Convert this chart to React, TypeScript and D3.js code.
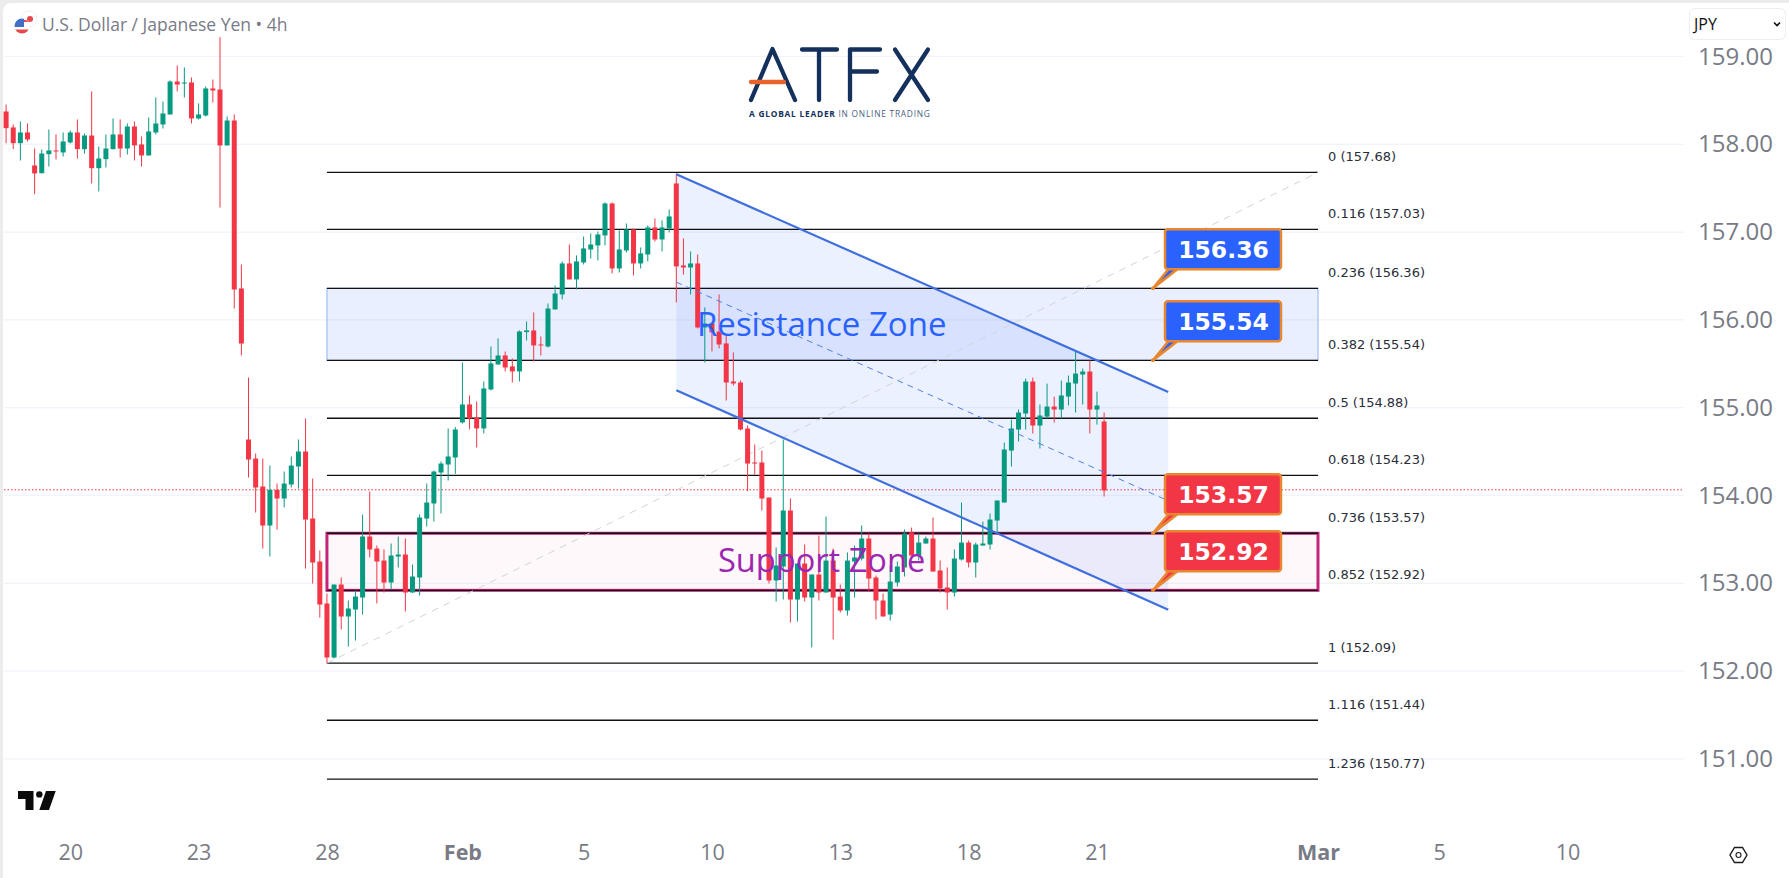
import { useEffect, useRef } from 'react';
import * as d3 from 'd3';

const WIDTH = 1789;
const HEIGHT = 878;

// open, high, low, close of each 4h candle
type Candle = [number, number, number, number];

const candles: Candle[] = [
  [158.374, 158.453, 158.013, 158.184], [158.192, 158.226, 157.945, 158.013], [158.013, 158.26, 157.816, 158.135],
  [158.135, 158.237, 158.032, 158.055], [157.759, 157.952, 157.432, 157.668], [157.671, 157.941, 157.668, 157.895],
  [157.888, 158.169, 157.747, 157.93], [157.93, 158.112, 157.827, 157.922], [157.907, 158.135, 157.861, 158.032],
  [158.021, 158.157, 158.009, 158.135], [158.135, 158.283, 157.838, 157.945], [157.945, 158.123, 157.895, 158.1],
  [158.1, 158.602, 157.554, 157.728], [157.728, 157.975, 157.463, 157.838], [157.831, 158.112, 157.736, 157.952],
  [157.945, 158.294, 157.941, 158.112], [158.112, 158.283, 157.85, 157.952], [157.952, 158.237, 157.884, 158.203],
  [158.203, 158.26, 157.816, 157.987], [157.998, 158.089, 157.747, 157.873], [157.873, 158.305, 157.873, 158.146],
  [158.135, 158.533, 158.112, 158.237], [158.226, 158.488, 158.18, 158.351], [158.34, 158.727, 158.34, 158.715],
  [158.715, 158.898, 158.602, 158.681], [158.696, 158.875, 158.533, 158.704], [158.704, 158.761, 158.237, 158.294],
  [158.294, 158.465, 158.283, 158.34], [158.328, 158.658, 158.317, 158.636], [158.636, 158.738, 158.476, 158.613],
  [158.624, 159.22, 157.28, 157.987], [157.987, 158.317, 157.987, 158.271], [158.271, 158.34, 156.13, 156.346],
  [156.358, 156.631, 155.595, 155.731], [154.638, 155.344, 154.205, 154.41], [154.421, 154.478, 153.806, 154.091],
  [154.102, 154.421, 153.396, 153.658], [153.658, 154.341, 153.305, 154.064], [154.064, 154.136, 153.612, 153.966],
  [153.966, 154.273, 153.863, 154.136], [154.125, 154.444, 154.091, 154.341], [154.33, 154.638, 154.079, 154.501],
  [154.501, 154.877, 153.168, 153.726], [153.738, 154.193, 152.997, 153.237], [153.248, 153.373, 152.61, 152.758],
  [152.77, 152.884, 152.086, 152.155], [152.155, 152.986, 152.143, 152.986], [152.986, 153.066, 152.474, 152.622],
  [152.622, 152.804, 152.28, 152.713], [152.701, 152.918, 152.348, 152.849], [152.838, 153.783, 152.644, 153.533],
  [153.533, 154.045, 153.294, 153.385], [153.396, 153.43, 152.77, 153.248], [153.259, 153.385, 152.895, 153.009],
  [153.009, 153.453, 152.929, 153.316], [153.305, 153.533, 153.18, 153.328], [153.328, 153.51, 152.679, 152.895],
  [152.895, 153.214, 152.895, 153.077], [153.066, 153.783, 152.861, 153.749], [153.738, 154.136, 153.647, 153.92],
  [153.909, 154.284, 153.704, 154.273], [154.262, 154.387, 153.795, 154.364], [154.353, 154.763, 154.171, 154.444],
  [154.433, 154.779, 154.247, 154.752], [154.832, 155.515, 154.82, 155.037], [155.037, 155.139, 154.752, 154.877],
  [154.889, 155.071, 154.547, 154.764], [154.764, 155.299, 154.707, 155.219], [155.208, 155.697, 155.196, 155.504],
  [155.492, 155.789, 155.492, 155.595], [155.595, 155.64, 155.413, 155.458], [155.47, 155.561, 155.287, 155.413],
  [155.413, 155.88, 155.299, 155.868], [155.861, 155.982, 155.766, 155.88], [155.88, 156.085, 155.527, 155.709],
  [155.72, 155.811, 155.595, 155.709], [155.697, 156.187, 155.686, 156.13], [156.119, 156.392, 156.119, 156.301],
  [156.29, 156.666, 156.233, 156.643], [156.643, 156.859, 156.461, 156.461], [156.461, 156.734, 156.347, 156.666],
  [156.654, 156.95, 156.631, 156.814], [156.802, 156.984, 156.7, 156.859], [156.848, 157.007, 156.677, 156.973],
  [156.962, 157.338, 156.848, 157.326], [157.326, 157.338, 156.529, 156.586], [156.586, 157.019, 156.54, 156.802],
  [156.791, 157.098, 156.768, 157.03], [157.03, 157.041, 156.506, 156.643], [156.643, 156.825, 156.586, 156.757],
  [156.745, 157.076, 156.666, 157.053], [157.053, 157.155, 156.893, 156.916], [156.916, 157.133, 156.779, 157.053],
  [157.041, 157.258, 156.996, 157.178], [157.554, 157.668, 156.199, 156.609], [156.62, 156.928, 156.517, 156.597],
  [156.597, 156.779, 156.29, 156.643], [156.643, 156.745, 155.902, 155.914], [155.914, 156.142, 155.515, 155.959],
  [155.959, 155.959, 155.64, 155.857], [155.868, 156.29, 155.675, 155.72], [155.732, 155.823, 155.082, 155.287],
  [155.299, 155.629, 155.253, 155.276], [155.287, 155.31, 154.741, 154.752], [154.763, 154.797, 154.049, 154.364],
  [154.376, 154.581, 154.239, 154.364], [154.376, 154.512, 153.829, 153.966], [153.977, 153.977, 152.998, 153.032],
  [153.032, 153.408, 152.792, 153.203], [153.191, 154.638, 152.815, 153.829], [153.829, 153.966, 152.553, 152.815],
  [152.815, 153.225, 152.565, 153.225], [153.225, 153.442, 152.792, 152.838], [152.838, 153.1, 152.269, 153.1],
  [153.1, 153.544, 152.804, 152.895], [152.895, 153.761, 152.895, 153.259], [153.259, 153.396, 152.36, 152.838],
  [152.849, 152.986, 152.667, 152.69], [152.69, 153.351, 152.633, 153.259], [153.248, 153.43, 152.838, 153.294],
  [153.282, 153.658, 153.259, 153.51], [153.51, 153.567, 152.906, 153.054], [153.066, 153.089, 152.587, 152.804],
  [152.804, 152.884, 152.622, 152.622], [152.644, 153.203, 152.576, 153.02], [153.009, 153.248, 152.963, 153.191],
  [153.18, 153.613, 153.077, 153.567], [153.578, 153.635, 153.316, 153.316], [153.316, 153.567, 153.259, 153.464],
  [153.453, 153.533, 153.453, 153.51], [153.51, 153.749, 153.134, 153.134], [153.146, 153.259, 152.895, 152.941],
  [152.952, 153.18, 152.701, 152.895], [152.895, 153.385, 152.849, 153.282], [153.271, 153.92, 153.259, 153.464],
  [153.464, 153.487, 153.18, 153.237], [153.237, 153.464, 153.066, 153.442], [153.43, 153.704, 153.43, 153.453],
  [153.442, 153.795, 153.385, 153.726], [153.715, 153.943, 153.556, 153.943], [153.92, 154.603, 153.92, 154.524],
  [154.512, 154.865, 154.33, 154.763], [154.751, 154.979, 154.615, 154.945], [154.934, 155.332, 154.751, 155.298],
  [155.298, 155.344, 154.706, 154.797], [154.797, 155.036, 154.535, 154.911], [154.899, 155.275, 154.877, 155.013],
  [155.013, 155.127, 154.831, 154.979], [154.979, 155.31, 154.877, 155.139], [155.127, 155.366, 155.025, 155.287],
  [155.275, 155.64, 154.945, 155.389], [155.378, 155.446, 155.036, 155.412], [155.412, 155.537, 154.706, 154.979],
  [154.979, 155.184, 154.808, 155.025], [154.843, 154.945, 153.988, 154.057],
];

const priceTicks = [159, 158, 157, 156, 155, 154, 153, 152, 151];
const lastPrice = 154.065;

// bar index -> label
const timeTicks: [number, string][] = [
  [9, '20'], [27, '23'], [45, '28'], [64, 'Feb'], [81, '5'], [99, '10'],
  [117, '13'], [135, '18'], [153, '21'], [184, 'Mar'], [201, '5'], [219, '10'],
];

const fibRatios = ['0', '0.116', '0.236', '0.382', '0.5', '0.618', '0.736', '0.852', '1', '1.116', '1.236'];
const fibPrices = [157.68, 157.03, 156.36, 155.54, 154.88, 154.23, 153.57, 152.92, 152.09, 151.44, 150.77];
const fibStart = 45; // bar index of the fib's left edge
const fibEnd = 184;

const resistanceZone = [156.36, 155.54];
const supportZone = [153.57, 152.92];

const callouts = [
  { price: 156.36, color: '#2962ff' },
  { price: 155.54, color: '#2962ff' },
  { price: 153.57, color: '#f23645' },
  { price: 152.92, color: '#f23645' },
];

// downward channel, [bar index, price] at both ends
const channelBars = [94, 163];
const channelUpper = [157.66, 155.18];
const channelLower = [155.2, 152.7];

const App = () => {
  const svgRef = useRef<SVGSVGElement>(null);

  useEffect(() => {
    if (!svgRef.current) return;

    const svg = d3.select(svgRef.current);
    svg.selectAll('*').remove();

    const x = d3.scaleLinear().domain([0, 154]).range([6.1, 1104.1]);
    const y = d3.scaleLinear().domain([159, 151]).range([56.5, 758.9]);

    const sans = '"Open Sans", sans-serif';
    const verdana = '"DejaVu Sans", sans-serif';

    // Window frame
    svg.append('rect').attr('width', WIDTH).attr('height', HEIGHT).attr('fill', '#ffffff');
    svg.append('path')
      .attr('d', `M0 0H${WIDTH}V3H12Q3 3 3 12V${HEIGHT}H0Z`)
      .attr('fill', '#ececec');

    // Grid
    svg.append('g')
      .selectAll('line')
      .data(priceTicks)
      .join('line')
      .attr('x1', 4)
      .attr('x2', 1684)
      .attr('y1', (d) => y(d))
      .attr('y2', (d) => y(d))
      .attr('stroke', '#f0f3fa')
      .attr('stroke-width', 1.2);

    // Price axis
    const axisY = svg.append('g')
      .attr('transform', 'translate(1698,0)')
      .call(d3.axisRight(y).tickValues(priceTicks).tickSize(0).tickPadding(0).tickFormat((d) => d3.format('.2f')(d as number)));
    axisY.select('.domain').remove();
    axisY.selectAll('text')
      .attr('font-family', sans)
      .attr('font-size', 24)
      .attr('fill', '#787b86');

    // Time axis
    const axisX = svg.append('g')
      .attr('transform', 'translate(0,845)')
      .call(
        d3.axisBottom(x)
          .tickValues(timeTicks.map((d) => d[0]))
          .tickSize(0)
          .tickPadding(0)
          .tickFormat((_, i) => timeTicks[i][1])
      );
    axisX.select('.domain').remove();
    axisX.selectAll('text')
      .attr('font-family', sans)
      .attr('font-size', 21.5)
      .attr('font-weight', (_, i) => (timeTicks[i][1].length > 2 ? 700 : 400))
      .attr('fill', '#787b86');

    // Last price line
    svg.append('line')
      .attr('x1', 4)
      .attr('x2', 1684)
      .attr('y1', y(lastPrice))
      .attr('y2', y(lastPrice))
      .attr('stroke', '#f23645')
      .attr('stroke-width', 1)
      .attr('stroke-dasharray', '1.5 2');

    // Zones
    const zoneX = x(fibStart);
    const zoneWidth = x(fibEnd) - x(fibStart);
    svg.append('rect')
      .attr('x', zoneX)
      .attr('y', y(resistanceZone[0]))
      .attr('width', zoneWidth)
      .attr('height', y(resistanceZone[1]) - y(resistanceZone[0]))
      .attr('fill', '#2962ff')
      .attr('fill-opacity', 0.1)
      .attr('stroke', '#8fb3ee')
      .attr('stroke-width', 1);
    svg.append('rect')
      .attr('x', zoneX)
      .attr('y', y(supportZone[0]))
      .attr('width', zoneWidth)
      .attr('height', y(supportZone[1]) - y(supportZone[0]))
      .attr('fill', '#e91e63')
      .attr('fill-opacity', 0.03)
      .attr('stroke', '#c2247a')
      .attr('stroke-width', 3);

    // Channel fill
    const corners: [number, number][] = [
      [x(channelBars[0]), y(channelUpper[0])],
      [x(channelBars[1]), y(channelUpper[1])],
      [x(channelBars[1]), y(channelLower[1])],
      [x(channelBars[0]), y(channelLower[0])],
    ];
    svg.append('path')
      .attr('d', d3.line()(corners) + 'Z')
      .attr('fill', '#2962ff')
      .attr('fill-opacity', 0.09);

    // Fib lines and diagonal trend
    svg.append('g')
      .selectAll('line')
      .data(fibPrices)
      .join('line')
      .attr('x1', x(fibStart))
      .attr('x2', x(fibEnd))
      .attr('y1', (d) => y(d))
      .attr('y2', (d) => y(d))
      .attr('stroke', '#111111')
      .attr('stroke-width', 1.3);

    svg.append('line')
      .attr('x1', x(fibStart))
      .attr('y1', y(fibPrices[8]))
      .attr('x2', x(fibEnd))
      .attr('y2', y(fibPrices[0]))
      .attr('stroke', '#d1d4dc')
      .attr('stroke-width', 1)
      .attr('stroke-dasharray', '7 6');

    svg.append('g')
      .selectAll('text')
      .data(fibPrices)
      .join('text')
      .attr('x', 1328)
      .attr('y', (d) => y(d) - 11)
      .attr('font-family', verdana)
      .attr('font-size', 13)
      .attr('fill', '#2a2e39')
      .text((d, i) => `${fibRatios[i]} (${d3.format('.2f')(d)})`);

    // Candles
    const bars = svg.append('g')
      .selectAll('g')
      .data(candles)
      .join('g')
      .attr('fill', (d) => (d[3] >= d[0] ? '#089981' : '#f23645'))
      .attr('stroke', (d) => (d[3] >= d[0] ? '#089981' : '#f23645'));

    bars.append('line')
      .attr('x1', (_, i) => x(i))
      .attr('x2', (_, i) => x(i))
      .attr('y1', (d) => y(d[1]))
      .attr('y2', (d) => y(d[2]))
      .attr('stroke-width', 1);

    bars.append('rect')
      .attr('x', (_, i) => x(i) - 2.5)
      .attr('width', 5)
      .attr('y', (d) => y(Math.max(d[0], d[3])))
      .attr('height', (d) => Math.max(1, Math.abs(y(d[0]) - y(d[3]))))
      .attr('stroke', 'none');

    // Channel lines
    [channelUpper, channelLower].forEach((c) => {
      svg.append('line')
        .attr('x1', x(channelBars[0]))
        .attr('y1', y(c[0]))
        .attr('x2', x(channelBars[1]))
        .attr('y2', y(c[1]))
        .attr('stroke', '#3f6fdf')
        .attr('stroke-width', 2.2);
    });
    svg.append('line')
      .attr('x1', x(channelBars[0]))
      .attr('y1', y((channelUpper[0] + channelLower[0]) / 2))
      .attr('x2', x(channelBars[1]))
      .attr('y2', y((channelUpper[1] + channelLower[1]) / 2))
      .attr('stroke', '#4f7fe6')
      .attr('stroke-width', 1)
      .attr('stroke-dasharray', '6 5');

    // Zone names
    svg.append('text')
      .attr('x', 697)
      .attr('y', 336)
      .attr('font-family', sans)
      .attr('font-size', 33)
      .attr('fill', '#2962ff')
      .text('Resistance Zone');
    svg.append('text')
      .attr('x', 718)
      .attr('y', 572)
      .attr('font-family', sans)
      .attr('font-size', 32.6)
      .attr('fill', '#9c27b0')
      .text('Support Zone');

    // Price callouts
    const notes = svg.append('g').selectAll('g').data(callouts).join('g');
    notes.append('path')
      .attr('d', (d) => {
        const py = y(d.price);
        return `M1170 ${py - 21}H1180L1153 ${py}Z`;
      })
      .attr('fill', (d) => d.color)
      .attr('stroke', '#e8872f')
      .attr('stroke-width', 2.5);
    notes.append('circle')
      .attr('cx', 1153)
      .attr('cy', (d) => y(d.price))
      .attr('r', 2)
      .attr('fill', '#e8872f');
    notes.append('rect')
      .attr('x', 1165)
      .attr('y', (d) => y(d.price) - 59)
      .attr('width', 116)
      .attr('height', 40)
      .attr('rx', 3)
      .attr('fill', (d) => d.color)
      .attr('stroke', '#e8872f')
      .attr('stroke-width', 2.5);
    notes.append('text')
      .attr('x', 1223.5)
      .attr('y', (d) => y(d.price) - 30.5)
      .attr('text-anchor', 'middle')
      .attr('font-family', verdana)
      .attr('font-weight', 700)
      .attr('font-size', 23.5)
      .attr('fill', '#ffffff')
      .text((d) => d3.format('.2f')(d.price));

    // Title and flag
    svg.append('text')
      .attr('x', 42)
      .attr('y', 31)
      .attr('font-family', sans)
      .attr('font-size', 17.5)
      .attr('fill', '#787b86')
      .text('U.S. Dollar / Japanese Yen • 4h');
    svg.append('circle').attr('cx', 29).attr('cy', 19).attr('r', 8).attr('fill', '#ffffff').attr('stroke', '#eceef4');
    svg.append('circle').attr('cx', 30).attr('cy', 19).attr('r', 3).attr('fill', '#e5484d');
    const flag = svg.append('defs').append('clipPath').attr('id', 'flag-clip');
    flag.append('circle').attr('cx', 22).attr('cy', 26).attr('r', 7.5);
    const flagG = svg.append('g').attr('clip-path', 'url(#flag-clip)');
    flagG.append('rect').attr('x', 14).attr('y', 18).attr('width', 16).attr('height', 16).attr('fill', '#ffffff');
    flagG.append('rect').attr('x', 14).attr('y', 29.5).attr('width', 16).attr('height', 5).attr('fill', '#e5484d');
    flagG.append('rect').attr('x', 14).attr('y', 18).attr('width', 10).attr('height', 9).attr('fill', '#3f6fc9');
    flagG.append('rect').attr('x', 24).attr('y', 20).attr('width', 6).attr('height', 2).attr('fill', '#e5484d');

    // ATFX logo
    const logo = svg.append('g')
      .attr('fill', 'none')
      .attr('stroke', '#14305c')
      .attr('stroke-width', 4.3)
      .attr('stroke-linecap', 'round')
      .attr('stroke-linejoin', 'round');
    logo.append('path').attr('d', 'M751 100L772.5 49L795 100');
    logo.append('path').attr('d', 'M802 49.5H837M819 49.5V100');
    logo.append('path').attr('d', 'M850 100V49.5H880M850 71.5H877');
    logo.append('path').attr('d', 'M895 49.5L928 100M928 49.5L895 100');
    svg.append('line')
      .attr('x1', 751)
      .attr('x2', 784)
      .attr('y1', 82)
      .attr('y2', 82)
      .attr('stroke', '#e8632a')
      .attr('stroke-width', 4.3)
      .attr('stroke-linecap', 'round');
    const tagline = svg.append('text')
      .attr('x', 749)
      .attr('y', 116.5)
      .attr('font-family', sans)
      .attr('font-size', 8.4)
      .attr('letter-spacing', 0.75)
      .attr('fill', '#14305c');
    tagline.append('tspan').attr('font-weight', 700).text('A GLOBAL LEADER ');
    tagline.append('tspan').attr('fill', '#4a5f80').text('IN ONLINE TRADING');

    // TradingView mark
    svg.append('path')
      .attr('d', 'M18 791H33.5V810H25.5V799H18ZM46 791H55.7L49 810H39.3Z')
      .attr('fill', '#0b0b0b');
    svg.append('circle').attr('cx', 39.3).attr('cy', 794.4).attr('r', 3.2).attr('fill', '#0b0b0b');

    // Currency selector
    svg.append('rect')
      .attr('x', 1689.5)
      .attr('y', 8.5)
      .attr('width', 96)
      .attr('height', 31)
      .attr('rx', 5)
      .attr('fill', '#ffffff')
      .attr('stroke', '#eeeeee');
    svg.append('text')
      .attr('x', 1694)
      .attr('y', 30)
      .attr('font-family', sans)
      .attr('font-size', 16)
      .attr('fill', '#111111')
      .text('JPY');
    svg.append('path')
      .attr('d', 'M1774 22.5L1777 25.5L1780 22.5')
      .attr('fill', 'none')
      .attr('stroke', '#111111')
      .attr('stroke-width', 1.6);

    // Settings icon
    const icon = svg.append('g').attr('fill', 'none').attr('stroke', '#1c1c1c');
    icon.append('path').attr('d', 'M1734.5 847.5H1742.5L1747 855L1742.5 862.5H1734.5L1730 855Z').attr('stroke-width', 1.4);
    icon.append('circle').attr('cx', 1738.5).attr('cy', 855).attr('r', 2.5).attr('stroke-width', 1.1);
  }, []);

  return (
    <svg
      ref={svgRef}
      width={WIDTH}
      height={HEIGHT}
      style={{ position: 'absolute', left: 0, top: 0, display: 'block' }}
    />
  );
};

export default App;
